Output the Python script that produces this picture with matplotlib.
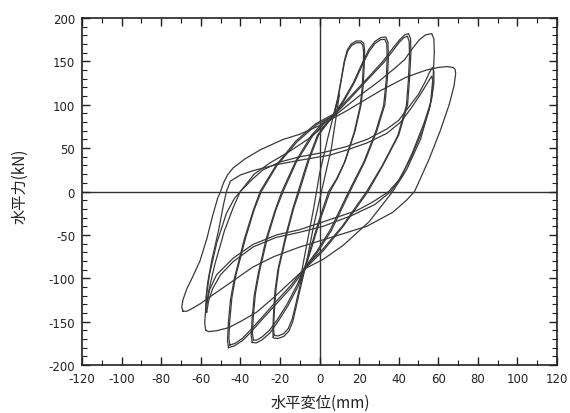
import matplotlib
matplotlib.use("Agg")
import matplotlib.pyplot as plt
from matplotlib.ticker import MultipleLocator

# ---- data (displacement mm, force kN) ----
LOOP_10 = [(-10, -105), (-8, -80), (-3, -20), (0, 20), (4, 60), (7, 87), (9, 105), (10, 112),
           (9, 95), (6, 50), (1, 0), (-3, -40), (-7, -87), (-9, -100), (-10, -105)]

LOOP_22A = [(-23.4, -168), (-23.6, -160), (-23.2, -140), (-22.5, -115), (-21, -90), (-17, -50),
            (-13.5, -20), (-10.8, 0), (-6, 35), (-1, 65), (4, 80), (7, 87), (9, 105), (11, 130),
            (12.5, 150), (14, 163), (16, 170), (18.5, 173.5), (21, 173.5), (22.3, 171),
            (22.8, 163), (22.6, 145), (22, 120), (21, 100), (18, 70), (13, 35), (9, 15), (5.3, 0),
            (0, -35), (-4, -65), (-7.3, -89), (-9.5, -110), (-11.5, -130), (-13.5, -150),
            (-15.5, -161), (-18, -167), (-21, -169.5), (-23, -169), (-23.4, -168)]

LOOP_22B = [(-23, -165), (-23.2, -157), (-22.8, -138), (-22, -113), (-20.5, -88), (-16.5, -49),
            (-13, -19), (-10.2, 0), (-5.5, 35), (-0.5, 65), (4.5, 80), (7.3, 87), (9.3, 106),
            (11.2, 131), (12.7, 150), (14.3, 162), (16.3, 168.5), (18.7, 171.5), (20.8, 171.5),
            (21.8, 169), (22.3, 161), (22.1, 143), (21.5, 118), (20.5, 98), (17.5, 68),
            (12.5, 33), (8.5, 14), (4.6, 0), (-0.5, -35), (-4.3, -64), (-7.6, -88), (-9.8, -108),
            (-11.8, -128), (-13.8, -147), (-15.8, -158), (-18.2, -164), (-21, -166.5),
            (-22.7, -166), (-23, -165)]

LOOP_34A = [(-34, -174), (-34.5, -166), (-34, -145), (-33, -120), (-31, -95), (-27, -55),
            (-22.5, -22), (-19, 0), (-12, 35), (-4, 65), (2, 80), (7, 88), (12, 105), (17, 125),
            (22, 150), (25, 164), (28, 173), (31, 177.5), (33.5, 178), (34.6, 172), (34.8, 155),
            (34.3, 130), (33, 100), (29, 70), (23, 35), (15.4, 0), (6, -45), (-1, -70),
            (-7.3, -89), (-11, -110), (-16, -132), (-21, -150), (-25, -163), (-29, -171),
            (-32, -174.5), (-34, -174)]

LOOP_34B = [(-33.4, -171), (-33.9, -163), (-33.4, -143), (-32.4, -118), (-30.4, -93),
            (-26.4, -54), (-22, -21), (-18.4, 0), (-11.5, 35), (-3.5, 64), (2.5, 79), (7.4, 87),
            (12.5, 105), (17.5, 125), (22.3, 149), (25.2, 162), (28, 170.5), (30.8, 175),
            (33, 175.5), (34, 170), (34.2, 153), (33.7, 128), (32.4, 99), (28.4, 69),
            (22.4, 34), (14.8, 0), (5.5, -44), (-1.4, -69), (-7.6, -88), (-11.4, -108),
            (-16.4, -130), (-21.4, -148), (-25.3, -160), (-29.2, -168), (-32, -171.5),
            (-33.4, -171)]

LOOP_45A = [(-46, -180), (-46.5, -172), (-46, -150), (-45, -125), (-43, -100), (-38, -55),
            (-33.5, -22), (-30, 0), (-22, 30), (-12, 58), (-2, 78), (7, 89), (15, 108), (24, 130),
            (32, 150), (37, 165), (40.5, 175), (43, 180.5), (45, 182), (46, 176), (46.2, 160),
            (45.5, 130), (44.5, 100), (40, 65), (32, 30), (24.5, 0), (12, -40), (2, -68),
            (-7.3, -89), (-14, -110), (-22, -130), (-30, -150), (-35, -163), (-39, -172),
            (-43, -178), (-46, -180)]

LOOP_45B = [(-45.3, -177), (-45.8, -169), (-45.3, -148), (-44.3, -123), (-42.4, -98),
            (-37.4, -54), (-33, -21), (-29.4, 0), (-21.5, 30), (-11.5, 57), (-1.5, 77),
            (7.4, 88), (15.4, 107), (24.3, 129), (32.2, 148), (37, 162), (40.3, 172),
            (42.7, 177.5), (44.4, 179), (45.3, 173), (45.5, 157), (44.9, 128), (43.9, 99),
            (39.5, 64), (31.5, 29), (23.8, 0), (11.5, -40), (1.5, -67), (-7.6, -88),
            (-14.4, -108), (-22.4, -128), (-30.2, -148), (-35, -160), (-38.8, -169),
            (-42.6, -175), (-45.3, -177)]

LOOP_57A = [(-57.5, -160), (-58, -152), (-57.5, -135), (-56, -115), (-53, -85), (-48, -45),
            (-43.5, -18), (-40, 0), (-33, 20), (-25, 33), (-16, 45), (-6, 60), (2, 75), (8, 88),
            (20, 110), (30, 127), (38, 142), (43, 152), (47, 165), (50.5, 175), (53.5, 180.5),
            (56.7, 182), (57.8, 176), (58, 160), (57.5, 135), (56, 100), (51, 60), (44, 25),
            (37, 0), (25, -35), (12, -62), (2, -78), (-7.3, -89), (-15, -105), (-23, -122),
            (-31.7, -139), (-40, -150), (-46, -157), (-52, -160.5), (-56, -161.5),
            (-57.5, -160)]

LOOP_57B = [(-57, -139), (-57.5, -132), (-57, -118), (-55.5, -95), (-52, -60), (-47, -25),
            (-43, -8), (-40, 0), (-34, 14), (-28.5, 25), (-20, 34), (-10, 40), (2, 45), (14, 52),
            (24, 60), (34, 72), (40, 82), (45, 97), (50, 112), (53.5, 127), (55.5, 137),
            (57, 143), (57.8, 138), (57.8, 125), (56.5, 105), (53, 80), (47, 45), (41, 15),
            (36, 0), (28, -15), (16, -28), (2, -40), (-10, -47), (-22, -53), (-33.6, -64),
            (-43.7, -81), (-50, -96), (-54, -112), (-56, -126), (-57, -139)]

LOOP_57C = [(-57, -130), (-57.3, -122), (-56.5, -105), (-54.5, -80), (-51, -45), (-48.5, -15),
            (-47, 0), (-45, 12), (-40, 19), (-33.6, 24), (-21.6, 31), (-10, 36), (5.3, 42),
            (14, 48), (24, 56), (34, 67), (41, 80), (46, 95), (51, 112), (54.5, 125),
            (56.7, 133), (57.4, 126), (57, 112), (55.5, 95), (52, 70), (46, 38), (40, 13),
            (35, 0), (27, -12), (18.8, -22), (1.8, -35), (-10, -44), (-21.6, -50),
            (-33.6, -61), (-43.7, -77), (-52, -96), (-55.5, -113), (-57, -130)]

LOOP_68 = [(-69, -138), (-69.6, -133), (-69, -125), (-67, -112), (-64, -98), (-60.4, -80),
           (-57, -55), (-54, -28), (-51.5, -8), (-50, 0), (-48.5, 10), (-46.5, 19),
           (-43.7, 27), (-38, 37), (-30, 48), (-18.4, 60), (-10, 66), (0, 76), (13.7, 93),
           (30.6, 116), (44, 132), (54, 140), (60, 143), (64.5, 144), (67.5, 143), (68.5, 141),
           (68.8, 136), (68, 122), (65.5, 100), (61, 70), (55.5, 38), (51, 15), (48, 0),
           (44, -10), (37, -24), (24, -40), (10, -50), (0, -57), (-10, -64), (-23, -75),
           (-33.6, -87), (-43.7, -103), (-53.8, -119), (-60, -129), (-64, -134.5),
           (-67, -138), (-69, -138)]

LOOPS = [LOOP_10, LOOP_22A, LOOP_22B, LOOP_34A, LOOP_34B, LOOP_45A, LOOP_45B,
         LOOP_57A, LOOP_57B, LOOP_57C, LOOP_68]

X_TICKS = list(range(-120, 121, 20))
Y_TICKS = list(range(-200, 201, 50))
X_LABEL = "水平変位(mm)"
Y_LABEL = "水平力(kN)"

plt.rcParams['font.family'] = ['DejaVu Sans']
plt.rcParams['axes.unicode_minus'] = False

fig = plt.figure(figsize=(5.70, 4.14), dpi=100)
ax = fig.add_axes([82 / 570, 1 - 366 / 414, (557 - 82) / 570, (366 - 19) / 414])

line_color = "#3a3a3a"
for loop in LOOPS:
    xs = [p[0] for p in loop]
    ys = [p[1] for p in loop]
    ax.plot(xs, ys, color=line_color, lw=0.9, solid_joinstyle="round")

ax.axhline(0, color="#333333", lw=1.0, zorder=1)
ax.axvline(0, color="#333333", lw=1.0, zorder=1)

ax.set_xlim(-120, 120)
ax.set_ylim(-200, 200)
ax.set_xticks(X_TICKS)
ax.set_yticks(Y_TICKS)
ax.xaxis.set_minor_locator(MultipleLocator(10))
ax.yaxis.set_minor_locator(MultipleLocator(10))
ax.tick_params(which="both", direction="in", top=True, right=True, color="#222222",
               labelsize=8.5, labelcolor="#222222")
ax.tick_params(which="major", length=6, width=1.0, pad=5)
ax.tick_params(which="minor", length=3.5, width=0.8)
for s in ax.spines.values():
    s.set_linewidth(1.2)
    s.set_color("#222222")

fig.text(320 / 570, 1 - 403 / 414, X_LABEL, ha="center", va="center", fontsize=11,
         family=["Noto Sans CJK JP", "DejaVu Sans"], color="#222222")
fig.text(20 / 570, 1 - 186 / 414, Y_LABEL, ha="center", va="center", rotation=90, fontsize=11,
         family=["Noto Sans CJK JP", "DejaVu Sans"], color="#222222")

fig.savefig("out.png", dpi=100, facecolor="white")
